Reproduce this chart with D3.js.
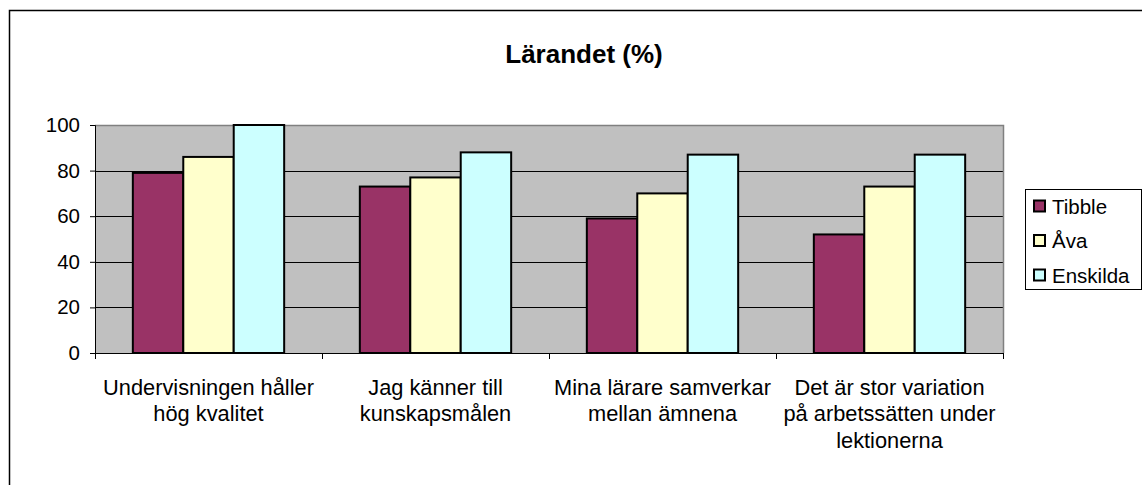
<!DOCTYPE html>
<html>
<head>
<meta charset="utf-8">
<script src="https://cdn.jsdelivr.net/npm/d3@7"></script>
<style>
  html, body { margin: 0; padding: 0; background: #fff; }
  svg { display: block; font-family: "Liberation Sans", Arial, sans-serif; }
</style>
</head>
<body>
<svg id="chart" width="1142" height="485"></svg>
<script>
// ---- data ----
const title = "Lärandet (%)";
const categories = [
  ["Undervisningen håller", "hög kvalitet"],
  ["Jag känner till", "kunskapsmålen"],
  ["Mina lärare samverkar", "mellan ämnena"],
  ["Det är stor variation", "på arbetssätten under", "lektionerna"]
];
const seriesNames = ["Tibble", "Åva", "Enskilda"];
const tibble = [79, 73, 59, 52];
const ava = [86, 77, 70, 73];
const enskilda = [100, 88, 87, 87];
const yTicks = [0, 20, 40, 60, 80, 100];
const colors = ["#993366", "#FFFFCC", "#CCFFFF"];

const seriesValues = [tibble, ava, enskilda];
const catKeys = categories.map((c, i) => i);

const svg = d3.select("#chart");

// outer frame
svg.append("rect")
  .attr("x", 9.5).attr("y", 10.5)
  .attr("width", 1200).attr("height", 600)
  .attr("fill", "#fff").attr("stroke", "#000").attr("stroke-width", 1.5);

const plot = { left: 95, right: 1003, top: 125, bottom: 353 };

const x0 = d3.scaleBand().domain(catKeys).range([plot.left, plot.right]).padding(0);
const x1 = d3.scaleBand().domain(seriesNames).range([0, x0.bandwidth()])
  .paddingInner(0).paddingOuter(0.75);
const y = d3.scaleLinear().domain([0, 100]).range([plot.bottom, plot.top]);

// plot background
svg.append("rect")
  .attr("x", plot.left).attr("y", plot.top)
  .attr("width", plot.right - plot.left).attr("height", plot.bottom - plot.top)
  .attr("fill", "#C0C0C0");

// gridlines
svg.append("g").selectAll("line")
  .data(yTicks.filter(t => t > 0 && t < 100))
  .join("line")
  .attr("x1", plot.left).attr("x2", plot.right)
  .attr("y1", d => Math.round(y(d)) + 0.5).attr("y2", d => Math.round(y(d)) + 0.5)
  .attr("stroke", "#000").attr("stroke-width", 1);

// top & right border (grey)
svg.append("path")
  .attr("d", `M${plot.left},${plot.top + 0.5}H${plot.right + 0.5}V${plot.bottom}`)
  .attr("fill", "none").attr("stroke", "#808080").attr("stroke-width", 1.5);

// bars
const groups = svg.append("g").selectAll("g")
  .data(catKeys).join("g")
  .attr("transform", d => `translate(${x0(d)},0)`);

groups.selectAll("rect")
  .data(ci => seriesNames.map((s, si) => ({ s, si, v: seriesValues[si][ci] })))
  .join("rect")
  .attr("x", d => x1(d.s))
  .attr("y", d => y(d.v))
  .attr("width", x1.bandwidth())
  .attr("height", d => y(0) - y(d.v))
  .attr("fill", d => colors[d.si])
  .attr("stroke", "#000").attr("stroke-width", 2);

// y axis
const yAxis = d3.axisLeft(y).tickValues(yTicks).tickSize(5).tickPadding(10);
const gy = svg.append("g")
  .attr("transform", `translate(${plot.left},0)`)
  .call(yAxis);
gy.select(".domain").attr("stroke", "#000").attr("stroke-width", 1);
gy.selectAll(".tick line").attr("stroke", "#000");
gy.selectAll(".tick text")
  .attr("font-size", 20.5).attr("fill", "#000")
  .attr("font-family", "Liberation Sans, Arial, sans-serif");

// x axis line and ticks at category boundaries
svg.append("line")
  .attr("x1", plot.left - 5).attr("x2", plot.right)
  .attr("y1", plot.bottom + 0.5).attr("y2", plot.bottom + 0.5)
  .attr("stroke", "#000");
const bounds = catKeys.map(k => x0(k)).concat([plot.right]);
svg.append("g").selectAll("line").data(bounds).join("line")
  .attr("x1", d => Math.round(d) + 0.5).attr("x2", d => Math.round(d) + 0.5)
  .attr("y1", plot.bottom).attr("y2", plot.bottom + 6)
  .attr("stroke", "#000");

// category labels
const labels = svg.append("g").selectAll("text")
  .data(catKeys).join("text")
  .attr("text-anchor", "middle")
  .attr("font-size", 21.8).attr("fill", "#000")
  .attr("x", d => x0(d) + x0.bandwidth() / 2)
  .attr("y", 394.5);
labels.selectAll("tspan")
  .data(d => categories[d].map((line, i) => ({ line, i, d })))
  .join("tspan")
  .attr("x", d => x0(d.d) + x0.bandwidth() / 2)
  .attr("dy", d => d.i === 0 ? 0 : 26.5)
  .text(d => d.line);

// title
svg.append("text")
  .attr("x", 584).attr("y", 63)
  .attr("text-anchor", "middle")
  .attr("font-size", 26).attr("font-weight", "bold").attr("fill", "#000")
  .text(title);

// legend
const lg = svg.append("g");
lg.append("rect")
  .attr("x", 1025.5).attr("y", 189.5).attr("width", 116).attr("height", 100)
  .attr("fill", "#fff").attr("stroke", "#000").attr("stroke-width", 1);
const items = lg.selectAll("g.item").data(seriesNames).join("g")
  .attr("class", "item")
  .attr("transform", (d, i) => `translate(0,${206 + i * 34.5})`);
items.append("rect")
  .attr("x", 1034).attr("y", -5.5).attr("width", 11).attr("height", 11)
  .attr("fill", (d, i) => colors[i]).attr("stroke", "#000").attr("stroke-width", 2);
items.append("text")
  .attr("x", 1052).attr("y", 7.5)
  .attr("font-size", 20.5).attr("fill", "#000")
  .text(d => d);
</script>
</body>
</html>
